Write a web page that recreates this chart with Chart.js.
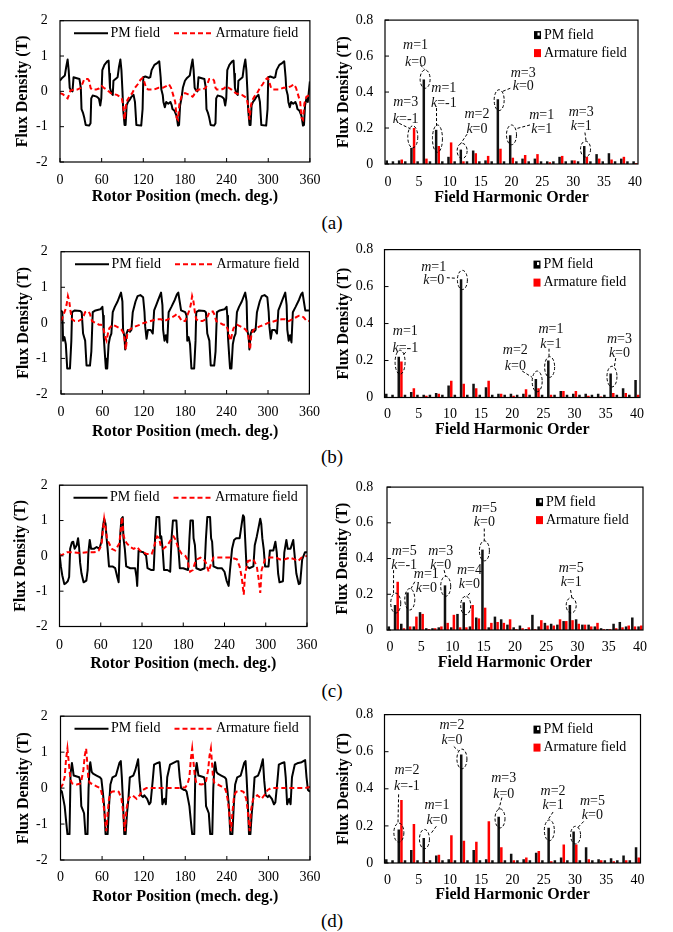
<!DOCTYPE html>
<html><head><meta charset="utf-8">
<script src="https://cdn.jsdelivr.net/npm/chart.js@4.4.1/dist/chart.umd.min.js"></script>
<style>
html,body{margin:0;padding:0;background:#fff}
body{position:relative;width:673px;height:932px;overflow:hidden}
canvas{position:absolute}
.lab{position:absolute;font-family:"Liberation Serif","Times New Roman",serif;font-size:19px;color:#000;transform:translate(-50%,-50%);white-space:nowrap}
</style></head><body>
<div class="lab" style="left:332px;top:223px">(a)</div>
<div class="lab" style="left:332px;top:457px">(b)</div>
<div class="lab" style="left:332px;top:691px">(c)</div>
<div class="lab" style="left:332px;top:921px">(d)</div>
<script>
// ---------------- DATA ----------------
const rotorTicks = [0, 60, 120, 180, 240, 300, 360];
const fluxTicksWave = [-2, -1, 0, 1, 2];
const fluxTicksHarm = [0, 0.2, 0.4, 0.6, 0.8];
const harmonicOrders = [0,1,2,3,4,5,6,7,8,9,10,11,12,13,14,15,16,17,18,19,20,21,22,23,24,25,26,27,28,29,30,31,32,33,34,35,36,37,38,39,40];
const harmonicTickLabels = [0, 5, 10, 15, 20, 25, 30, 35, 40];
const seriesNames = ['PM field', 'Armature field'];

// waveform (a): [rotor position deg, flux density T]
const pmA = [[0,0.3],[3,0.38],[7,0.45],[9,0.7],[11,0.9],[12.5,0.6],[14,0.1],[16,0.02],[18,0],[19.5,0.4],[23,0.38],[28,0.35],[30,0.1],[31,-0.5],[33,-0.6],[35,-0.75],[37,-0.95],[42,-0.97],[44,-0.9],[45,-0.2],[47,-0.12],[53,-0.15],[56,-0.2],[58,-0.4],[59.5,-0.2],[61,0.6],[64,0.75],[68,0.85],[70,0.87],[71,0.5],[72,0.1],[74,-0.05],[76,-0.1],[77,0.3],[80,0.35],[83,0.4],[85,0.7],[87,0.9],[88.5,0.6],[90,0],[91,-0.5],[93,-0.95],[94.5,-0.95],[96,-0.4],[98,-0.3],[100,-0.25],[103,-0.15],[106,-0.1],[108,-0.3],[110,-0.95],[117,-0.97],[119,-0.5],[120,0.4],[123,0.42],[128,0.38],[130,0.4],[132,0.6],[136,0.75],[140,0.8],[143,0.85],[145,0.4],[146,0.05],[148,-0.1],[149,-0.3],[151,-0.45],[153,-0.3],[156,-0.35],[159,-0.3],[161,-0.4],[162,-0.5],[165,-0.55],[168,-0.7],[170,-0.97],[171.5,-0.95],[173,-0.4],[175,-0.2],[177,0.1],
[180,0.3],[183,0.38],[187,0.45],[189,0.7],[191,0.9],[192.5,0.6],[194,0.1],[196,0.02],[198,0],[199.5,0.4],[203,0.38],[208,0.35],[210,0.1],[211,-0.5],[213,-0.6],[215,-0.75],[217,-0.95],[222,-0.97],[224,-0.9],[225,-0.2],[227,-0.12],[233,-0.15],[236,-0.2],[238,-0.4],[239.5,-0.2],[241,0.6],[244,0.75],[248,0.85],[250,0.87],[251,0.5],[252,0.1],[254,-0.05],[256,-0.1],[257,0.3],[260,0.35],[263,0.4],[265,0.7],[267,0.9],[268.5,0.6],[270,0],[271,-0.5],[273,-0.95],[274.5,-0.95],[276,-0.4],[278,-0.3],[280,-0.25],[283,-0.15],[286,-0.1],[288,-0.3],[290,-0.95],[297,-0.97],[299,-0.5],[300,0.4],[303,0.42],[308,0.38],[310,0.4],[312,0.6],[316,0.75],[320,0.8],[323,0.85],[325,0.4],[326,0.05],[328,-0.1],[329,-0.3],[331,-0.45],[333,-0.3],[336,-0.35],[339,-0.3],[341,-0.4],[342,-0.5],[345,-0.55],[348,-0.7],[350,-0.97],[351.5,-0.95],[353,-0.4],[355,-0.2],[357,-0.3],[360,0.28]];
const armA = [[0,-0.05],[4,-0.08],[8,-0.15],[11,-0.2],[13,-0.1],[15,0.02],[20,0.05],[25,0.05],[30,0.1],[33,0.25],[35,0.35],[40,0.35],[42,0.3],[44,0.1],[46,0.05],[52,0.05],[56,0.08],[60,0.15],[63,0.1],[67,0.05],[70,0],[73,-0.05],[78,-0.08],[82,-0.1],[86,-0.15],[89,-0.2],[91,-0.4],[93,-0.8],[95,-0.4],[97,-0.25],[100,-0.15],[104,-0.05],[108,0.1],[112,0.2],[116,0.33],[119,0.38],[121,0.3],[124,0.1],[127,0.05],[135,0.05],[142,0.1],[148,0.1],[153,0.15],[157,0.2],[160,0.1],[163,-0.1],[166,-0.3],[168,-0.75],[170,-0.8],[172,-0.35],[175,-0.15],[178,-0.08],
[180,-0.05],[184,-0.08],[188,-0.12],[191,-0.15],[193,-0.1],[195,0],[200,0.05],[205,0.05],[210,0.1],[213,0.25],[215,0.35],[220,0.35],[222,0.3],[224,0.1],[226,0.05],[232,0.05],[236,0.08],[240,0.15],[243,0.1],[247,0.05],[250,0],[253,-0.05],[258,-0.08],[262,-0.1],[266,-0.15],[269,-0.2],[271,-0.4],[273,-0.8],[275,-0.4],[277,-0.25],[280,-0.15],[284,-0.05],[288,0.1],[292,0.2],[296,0.33],[299,0.38],[301,0.3],[304,0.1],[307,0.05],[315,0.05],[322,0.1],[328,0.1],[333,0.15],[337,0.2],[340,0.1],[343,-0.1],[346,-0.3],[348,-0.75],[350,-0.8],[352,-0.35],[355,-0.15],[360,-0.1]];

// waveform (b)
const pmB = [[0,0.35],[2,0.3],[3,-0.5],[5,-0.4],[7,-0.6],[9,-1.28],[13,-1.28],[15,-0.5],[16,0.3],[20,0.35],[28,0.33],[30,0.3],[32,-0.3],[35,-0.5],[37,-1.2],[42,-1.2],[44,-0.8],[46,0.3],[50,0.35],[57,0.38],[60,0.45],[61,0.2],[62,-0.4],[64,-1.0],[65,-1.28],[67,-1.28],[69,-0.6],[71,-0.4],[73,-0.3],[75,0.3],[78,0.45],[82,0.6],[85,0.75],[87,0.85],[89,0.6],[90,-0.2],[92,-0.4],[93,-0.75],[95,-0.3],[97,-0.2],[100,-0.25],[102,-0.2],[104,0.3],[108,0.6],[111,0.75],[115,0.78],[119,0.72],[121,0.3],[122,-0.1],[124,-0.45],[126,-0.2],[130,-0.2],[133,-0.3],[135,0.35],[138,0.5],[141,0.65],[145,0.85],[147,0.5],[148,-0.2],[150,-0.5],[152,-0.35],[154,-0.55],[156,0.3],[160,0.45],[165,0.65],[168,0.8],[170,0.85],[172,0.6],[174,0.35],
[180,0.3],[182,0.2],[183,-0.5],[185,-0.4],[187,-0.6],[189,-1.28],[193,-1.28],[195,-0.5],[196,0.3],[200,0.35],[208,0.33],[210,0.3],[212,-0.3],[215,-0.5],[217,-1.2],[222,-1.2],[224,-0.8],[226,0.3],[230,0.35],[237,0.38],[240,0.45],[241,0.2],[242,-0.4],[244,-1.0],[245,-1.28],[247,-1.28],[249,-0.6],[251,-0.4],[253,-0.3],[255,0.3],[258,0.45],[262,0.6],[265,0.75],[267,0.85],[269,0.6],[270,-0.2],[272,-0.4],[273,-0.75],[275,-0.3],[277,-0.2],[280,-0.25],[282,-0.2],[284,0.3],[288,0.6],[291,0.75],[295,0.78],[299,0.72],[301,0.3],[302,-0.1],[304,-0.45],[306,-0.2],[310,-0.2],[313,-0.3],[315,0.35],[318,0.5],[321,0.65],[325,0.85],[327,0.5],[328,-0.2],[330,-0.5],[332,-0.35],[334,-0.55],[336,0.3],[340,0.45],[345,0.65],[348,0.8],[350,0.85],[352,0.6],[354,0.35],[360,0.35]];
const armB = [[0,0.05],[3,0.2],[6,0.35],[8,0.5],[10,0.75],[12,0.6],[14,0.3],[16,0.1],[20,0.05],[25,0.05],[30,0.1],[33,0.2],[35,0.3],[40,0.32],[42,0.25],[45,0.05],[50,0],[55,-0.05],[58,-0.05],[60,-0.1],[62,-0.2],[64,-0.4],[66,-0.5],[68,-0.3],[70,-0.15],[75,-0.05],[80,-0.1],[85,-0.15],[88,-0.2],[91,-0.3],[93,-0.6],[94,-0.75],[96,-0.3],[99,-0.2],[103,-0.15],[108,-0.1],[115,-0.05],[120,0],[125,0.02],[130,0.05],[135,0.08],[140,0.1],[145,0.1],[150,0.05],[155,0.1],[160,0.15],[165,0.2],[168,0.25],[172,0.15],[175,0.05],
[180,0.05],[183,0.2],[186,0.35],[188,0.5],[190,0.75],[192,0.6],[194,0.3],[196,0.1],[200,0.05],[205,0.05],[210,0.1],[213,0.2],[215,0.3],[220,0.32],[222,0.25],[225,0.05],[230,0],[235,-0.05],[238,-0.05],[240,-0.1],[242,-0.2],[244,-0.4],[246,-0.5],[248,-0.3],[250,-0.15],[255,-0.05],[260,-0.1],[265,-0.15],[268,-0.2],[271,-0.3],[273,-0.6],[274,-0.75],[276,-0.3],[279,-0.2],[283,-0.15],[288,-0.1],[295,-0.05],[300,0],[305,0.02],[310,0.05],[315,0.08],[320,0.1],[325,0.1],[330,0.05],[335,0.1],[340,0.15],[345,0.2],[348,0.2],[352,0.15],[356,0.05],[360,0.05]];

// waveform (c)
const pmC = [[0,0.07],[2,-0.3],[4,-0.55],[7,-0.8],[9,-0.78],[12,-0.72],[14,-0.6],[15.5,0.2],[18,0.38],[20,0.4],[22,0.2],[25,0.3],[27,0.5],[28.5,0.25],[30,-0.2],[32,-0.5],[35,-0.75],[39,-0.7],[41,-0.4],[42,0.1],[44,0.45],[46,0.2],[50,0.2],[54,0.25],[58,0.2],[61,0.4],[63,0.8],[65,1.05],[67,0.9],[68.5,0.5],[70,0.2],[72,-0.3],[77,-0.3],[81,-0.35],[84,-0.6],[86,-0.75],[88,0.5],[90,1.05],[92,1.1],[93,0.5],[95,0.2],[97,-0.3],[103,-0.35],[110,-0.35],[112,-0.6],[113,-0.85],[115,0.15],[118,0.12],[122,0.1],[126,0],[128,-0.35],[133,-0.4],[137,-0.4],[139,0.5],[141,1.1],[145,1.1],[146.5,0.5],[148,0.55],[150,0.2],[152,-0.4],[157,-0.4],[161,-0.45],[163,0.5],[165,1.0],[170,1.0],[171.5,0.5],[173,0.2],[175,-0.35],[180,-0.35],[187,-0.4],[189,0.5],[190.5,1.0],[194,1.0],[195,0.5],[197,0.3],[199,-0.35],[205,-0.4],[211,-0.35],[213,0.5],[215,1.1],[219,1.1],[220.5,0.5],[222,0.4],[224,-0.3],[230,-0.35],[236,-0.35],[240,-0.45],[243,-0.7],[246,-0.85],[248,-0.4],[251,0.2],[254,0.45],[257,0.5],[262,0.5],[265,0.9],[267,1.15],[268.5,1.1],[270,0.5],[272,-0.3],[276,-0.35],[282,-0.3],[284,0.3],[287,0.55],[290,0.85],[292,1.05],[293.5,0.9],[295,0.5],[297,0.2],[299,-0.3],[304,-0.3],[306,0.15],[311,0.15],[314,0.4],[316,0.1],[318,-0.5],[320,-0.75],[325,-0.72],[327,0.1],[330,0.45],[332,0.2],[336,0.2],[340,0.45],[341.6,0.1],[344.5,-0.5],[348,-0.8],[350,-0.78],[353,-0.1],[357,0.1],[360,0.1]];
const armC = [[0,0],[6,0.05],[11,0.1],[20,0.1],[30,0.08],[40,0.1],[50,0.1],[55,0.12],[57,0.15],[61,0.3],[63,0.7],[65,1.05],[67,0.8],[69,0.5],[71,0.4],[76,0.2],[81,0.15],[84,0.25],[87,0.35],[89,0.7],[91,1.1],[93,0.6],[95,0.45],[98,0.35],[103,0.25],[108,0.2],[113,0.25],[117,0.15],[122,0.1],[127,0.05],[134,0.05],[137,0.2],[140,0.45],[142,0.55],[145,0.5],[147,0.3],[151,0.2],[157,0.3],[162,0.45],[166,0.55],[169,0.45],[173,0.2],[178,0.05],[183,0],[186,-0.1],[188,-0.3],[190,-0.45],[194,-0.4],[197,-0.2],[200,-0.1],[205,-0.05],[210,-0.1],[213,-0.2],[217,-0.45],[220,-0.25],[224,-0.05],[235,-0.05],[250,-0.05],[258,-0.1],[262,-0.3],[265,-0.6],[268,-1.1],[270,-0.5],[274,-0.15],[282,-0.1],[287,-0.3],[290,-0.7],[292,-1.05],[294,-0.4],[299,-0.1],[305,-0.05],[315,-0.05],[321,-0.1],[327,-0.1],[335,-0.05],[342,-0.1],[347,-0.15],[352,-0.05],[360,0]];

// waveform (d)
const pmD = [[0,-0.05],[2,-0.1],[4,-0.3],[6,-0.5],[8,-0.9],[10,-1.28],[13,-1.28],[14.5,0.4],[16.5,0.7],[18,0.5],[19,0.35],[27,0.3],[28.5,0.2],[30,-0.5],[32,-0.6],[34,-0.7],[36,-1.28],[39,-1.28],[40.5,0],[42,0.6],[43,0.72],[45,0.45],[47,0.4],[52,0.35],[57,0.3],[59,0.25],[61,-0.1],[63,-0.5],[65,-1.28],[68,-1.28],[70,-0.5],[72,0.1],[75,0.3],[80,0.35],[85,0.7],[87,0.75],[88.5,0.3],[90,-0.3],[92,-1.28],[94,-1.28],[96,-0.7],[98,-0.3],[100,0.3],[105,0.35],[108,0.5],[112,0.8],[114,0.2],[116,-0.2],[119,-0.25],[121,-0.2],[125,-0.3],[128,-0.45],[130,-0.4],[133,0.2],[135,0.65],[140,0.7],[143,0.72],[145,0.3],[147,-0.45],[150,-0.3],[152,-0.45],[154,0.3],[158,0.65],[163,0.7],[168,0.75],[170,0.75],[172,0.3],[174,0],[178,-0.05],
[180,-0.05],[182,-0.1],[184,-0.3],[186,-0.5],[188,-0.9],[190,-1.28],[193,-1.28],[194.5,0.4],[196.5,0.7],[198,0.5],[199,0.35],[207,0.3],[208.5,0.2],[210,-0.5],[212,-0.6],[214,-0.7],[216,-1.28],[219,-1.28],[220.5,0],[222,0.6],[223,0.72],[225,0.45],[227,0.4],[232,0.35],[237,0.3],[239,0.25],[241,-0.1],[243,-0.5],[245,-1.28],[248,-1.28],[250,-0.5],[252,0.1],[255,0.3],[260,0.35],[265,0.7],[267,0.75],[268.5,0.3],[270,-0.3],[272,-1.28],[274,-1.28],[276,-0.7],[278,-0.3],[280,0.3],[285,0.35],[288,0.5],[292,0.8],[294,0.2],[296,-0.2],[299,-0.25],[301,-0.2],[305,-0.3],[308,-0.45],[310,-0.4],[313,0.2],[315,0.65],[320,0.7],[323,0.72],[325,0.3],[327,-0.45],[330,-0.3],[332,-0.45],[334,0.3],[338,0.65],[343,0.7],[348,0.72],[353,0.78],[355,0.3],[357,-0.05],[360,-0.1]];
const armD = [[0,0],[3,0.1],[6,0.3],[8,0.8],[10,1.1],[12,0.7],[14,0.3],[16,0.15],[18,0.12],[23,0.1],[28,0.12],[30,0.2],[33,0.5],[35,0.9],[37,1.1],[39,0.6],[40,0.3],[42,0.15],[47,0.1],[52,0.05],[57,0],[59,-0.1],[61,-0.3],[63,-0.6],[66,-1.2],[68,-0.7],[70,-0.3],[72,-0.15],[74,-0.1],[81,-0.08],[84,-0.1],[88,-0.3],[90,-0.6],[93,-1.2],[95,-0.6],[98,-0.3],[100,-0.25],[104,-0.2],[110,-0.3],[114,-0.2],[119,-0.05],[124,0],[172,0],[178,0.02],
[180,0.02],[183,0.1],[186,0.3],[188,0.8],[190,1.1],[192,0.7],[194,0.3],[196,0.15],[198,0.12],[203,0.1],[208,0.12],[210,0.2],[213,0.5],[215,0.9],[217,1.1],[219,0.6],[220,0.3],[222,0.15],[227,0.1],[232,0.05],[237,0],[239,-0.1],[241,-0.3],[243,-0.6],[246,-1.2],[248,-0.7],[250,-0.3],[252,-0.15],[254,-0.1],[261,-0.08],[264,-0.1],[268,-0.3],[270,-0.6],[273,-1.2],[275,-0.6],[278,-0.3],[280,-0.25],[284,-0.2],[290,-0.3],[294,-0.2],[299,-0.05],[304,0],[352,0],[360,0.03]];

// harmonic spectra, one value per harmonic order 0..40
const harmPmA  = [0.02,0.015,0.02,0.015,0.09,0.015,0.47,0.015,0.19,0.015,0.04,0.015,0.08,0.015,0.075,0.015,0.02,0.015,0.36,0.015,0.16,0.015,0.03,0.015,0.03,0.015,0.015,0.015,0.04,0.015,0.02,0.015,0.1,0.015,0.055,0.015,0.06,0.015,0.03,0.015,0.015];
const harmArmA = [0,0,0.025,0,0.2,0,0.03,0,0.1,0,0.12,0,0.015,0,0.06,0,0.045,0,0.085,0,0.035,0,0.05,0,0.055,0,0.01,0,0.045,0,0.02,0,0.04,0,0.03,0,0.025,0,0.04,0,0.005];
const harmPmB  = [0.02,0.015,0.22,0.015,0.03,0.015,0.015,0.015,0.025,0.015,0.065,0.015,0.64,0.015,0.075,0.015,0.055,0.015,0.02,0.015,0.02,0.015,0.02,0.015,0.1,0.015,0.2,0.015,0.035,0.015,0.02,0.015,0.02,0.015,0.02,0.015,0.13,0.015,0.05,0.015,0.095];
const harmArmB = [0,0,0.195,0,0.05,0,0.01,0,0.02,0,0.09,0,0.075,0,0.05,0,0.09,0,0.02,0,0.01,0,0.045,0,0.05,0,0.015,0,0.035,0,0.035,0,0.01,0,0.005,0,0.025,0,0.025,0,0.015];
const harmPmC  = [0.02,0.14,0.035,0.21,0.02,0.1,0.01,0.01,0.015,0.25,0.015,0.09,0.155,0.02,0.07,0.45,0.015,0.075,0.06,0.03,0.015,0.025,0.005,0.085,0.02,0.04,0.035,0.03,0.05,0.14,0.06,0.03,0.03,0.02,0.01,0.005,0.035,0.045,0.02,0.07,0.02];
const harmArmC = [0,0.27,0.01,0.02,0.075,0.09,0.005,0.01,0.02,0.04,0.085,0.015,0.015,0.14,0.065,0.125,0.04,0.045,0.04,0.06,0.005,0.01,0.015,0.005,0.055,0.025,0.025,0.06,0.05,0.055,0.035,0.03,0.02,0.04,0.005,0.005,0.01,0.015,0.025,0.02,0.025];
const harmPmD  = [0.02,0.015,0.18,0.015,0.07,0.015,0.135,0.015,0.04,0.015,0.02,0.015,0.585,0.015,0.07,0.015,0.02,0.015,0.25,0.015,0.05,0.015,0.02,0.015,0.055,0.015,0.19,0.015,0.03,0.015,0.17,0.015,0.085,0.015,0.02,0.015,0.025,0.015,0.04,0.015,0.085];
const harmArmD = [0,0,0.34,0,0.21,0,0.005,0,0.045,0,0.15,0,0.12,0,0.115,0,0.225,0,0.085,0,0.015,0,0.03,0,0.065,0,0.01,0,0.1,0,0.1,0,0.02,0,0.015,0,0.01,0,0.015,0,0.03];

// harmonic labels (m, k) with the order they mark
const notesA = [
 {m:'3',k:'-1',ord:4,lo:0.09,hi:0.212,tx:2.85,my:0.345,ky:0.251,l:[1.8,0.226,3.65,0.195]},
 {m:'1',k:'0',ord:6,lo:0.421,hi:0.523,tx:4.46,my:0.659,ky:0.566,l:[5.25,0.55,5.95,0.525]},
 {m:'1',k:'-1',ord:8,lo:0.065,hi:0.217,tx:9.03,my:0.421,ky:0.336,l:[7.85,0.311,7.85,0.212]},
 {m:'2',k:'0',ord:12,lo:0.031,hi:0.115,tx:14.4,my:0.277,ky:0.192,l:[12.8,0.166,11.7,0.11]},
 {m:'3',k:'0',ord:18,lo:0.297,hi:0.413,tx:21.9,my:0.506,ky:0.43,l:[19.8,0.421,18.3,0.4]},
 {m:'1',k:'1',ord:20,lo:0.107,hi:0.217,tx:24.9,my:0.268,ky:0.192,l:[23,0.217,20.6,0.195]},
 {m:'3',k:'1',ord:32,lo:0.039,hi:0.127,tx:31.3,my:0.285,ky:0.209,l:[31.9,0.175,32.1,0.124]}
];
const notesB = [
 {m:'1',k:'-1',ord:2,lo:0.126,hi:0.256,tx:2.84,my:0.359,ky:0.264,l:[2.9,0.245,2.45,0.228]},
 {m:'1',k:'0',ord:12,lo:0.584,hi:0.688,tx:7.4,my:0.705,ky:0.636,l:[9.5,0.648,11.0,0.645]},
 {m:'2',k:'0',ord:24,lo:0.031,hi:0.143,tx:20.5,my:0.256,ky:0.169,l:[21.6,0.143,23.2,0.109]},
 {m:'1',k:'1',ord:26,lo:0.109,hi:0.221,tx:26.2,my:0.368,ky:0.29,l:[25.9,0.264,25.9,0.221]},
 {m:'3',k:'0',ord:36,lo:0.057,hi:0.169,tx:37.2,my:0.316,ky:0.238,l:[36.6,0.213,36.4,0.169]}
];
const notesC = [
 {m:'5',k:'-1',ord:0.9,lo:0.095,hi:0.206,tx:2.25,my:0.439,ky:0.361,l:[0.55,0.335,0.55,0.2]},
 {m:'1',k:'0',ord:3.15,lo:0.112,hi:0.232,tx:5.8,my:0.31,ky:0.236,l:[3.95,0.27,3.3,0.229]},
 {m:'3',k:'0',ord:8.9,lo:0.189,hi:0.301,tx:8.1,my:0.439,ky:0.361,l:[8.65,0.335,8.9,0.298]},
 {m:'4',k:'0',ord:12.1,lo:0.086,hi:0.189,tx:12.7,my:0.335,ky:0.258,l:[12.8,0.206,12.1,0.184]},
 {m:'5',k:'0',ord:15.1,lo:0.387,hi:0.499,tx:15.1,my:0.68,ky:0.602,l:[15.08,0.568,15.08,0.499]},
 {m:'5',k:'1',ord:29,lo:0.095,hi:0.181,tx:29,my:0.344,ky:0.267,l:[28.9,0.224,29.1,0.181]}
];
const notesD = [
 {m:'2',k:'-1',ord:1.8,lo:0.112,hi:0.215,tx:3.1,my:0.499,ky:0.413,l:[1.76,0.37,1.66,0.212]},
 {m:'1',k:'0',ord:5.9,lo:0.077,hi:0.181,tx:7.9,my:0.31,ky:0.232,l:[7.8,0.198,6.85,0.155]},
 {m:'2',k:'0',ord:11.9,lo:0.508,hi:0.614,tx:10.3,my:0.74,ky:0.662,l:[10.6,0.628,11.4,0.602]},
 {m:'3',k:'0',ord:18,lo:0.189,hi:0.292,tx:18.6,my:0.456,ky:0.37,l:[18.3,0.353,17.8,0.287]},
 {m:'2',k:'1',ord:25.9,lo:0.12,hi:0.232,tx:26.5,my:0.387,ky:0.31,l:[26.5,0.275,25.6,0.229]},
 {m:'5',k:'0',ord:30.1,lo:0.103,hi:0.198,tx:32.8,my:0.335,ky:0.258,l:[31.4,0.224,30.4,0.189]}
];

// ---------------- LAYOUT (page pixels) ----------------
const FONT = '"Liberation Serif", "Times New Roman", serif';
Chart.defaults.font.family = FONT;
Chart.defaults.color = '#000';
const G = {
  wa:{cx:0,cy:0,cw:330,ch:215,l:60,t:7,r:310,b:162,yt:23,tk:180,tt:197},
  ha:{cx:330,cy:0,cw:343,ch:215,l:385,t:7.5,r:638,b:164,yt:344,tk:182.5,tt:198},
  wb:{cx:0,cy:230,cw:330,ch:215,l:61,t:243,r:310,b:394,yt:24,tk:412.5,tt:431.5},
  hb:{cx:330,cy:230,cw:343,ch:215,l:384.5,t:243,r:640,b:397.5,yt:344,tk:414,tt:430},
  wc:{cx:0,cy:465,cw:330,ch:215,l:59.5,t:475,r:307,b:626.5,yt:21,tk:645,tt:664},
  hc:{cx:330,cy:465,cw:343,ch:215,l:387,t:475,r:643,b:630,yt:343,tk:647.5,tt:663},
  wd:{cx:0,cy:695,cw:330,ch:215,l:60.5,t:708,r:310,b:860,yt:24,tk:877.5,tt:896.5},
  hd:{cx:330,cy:695,cw:343,ch:215,l:384.5,t:708,r:640.5,b:863,yt:344,tk:880,tt:895}
};

function mkCanvas(g){
  const c = document.createElement('canvas');
  c.width = g.cw; c.height = g.ch;
  c.style.left = g.cx+'px'; c.style.top = g.cy+'px';
  c.style.width = g.cw+'px'; c.style.height = g.ch+'px';
  document.body.appendChild(c);
  return c;
}

const framePlugin = {
  id:'frame',
  afterDraw(chart){
    const {ctx, chartArea:a, scales} = chart;
    ctx.save();
    ctx.setLineDash([]);
    ctx.strokeStyle = '#000'; ctx.lineWidth = 1.2;
    ctx.strokeRect(a.left, a.top, a.right-a.left, a.bottom-a.top);
    ctx.lineWidth = 1;
    scales.y.ticks.forEach(t=>{
      const y = scales.y.getPixelForValue(t.value);
      ctx.beginPath(); ctx.moveTo(a.left, y); ctx.lineTo(a.left+4, y); ctx.stroke();
    });
    if (chart.config.type === 'line') {
      scales.x.ticks.forEach(t=>{
        const x = scales.x.getPixelForValue(t.value);
        ctx.beginPath(); ctx.moveTo(x, a.bottom); ctx.lineTo(x, a.bottom-4); ctx.stroke();
      });
    }
    ctx.restore();
  }
};

const waveLegend = {
  id:'waveLegend',
  afterDraw(chart){
    const {ctx, chartArea:a} = chart;
    const y = a.top + 12.5;
    const ds = chart.data.datasets;
    ctx.save();
    ctx.lineWidth = 2; ctx.strokeStyle = '#000'; ctx.setLineDash([]);
    ctx.beginPath(); ctx.moveTo(a.left+14, y); ctx.lineTo(a.left+48, y); ctx.stroke();
    ctx.strokeStyle = '#ff0000'; ctx.setLineDash([5,3]);
    ctx.beginPath(); ctx.moveTo(a.left+114, y); ctx.lineTo(a.left+153, y); ctx.stroke();
    ctx.setLineDash([]);
    ctx.fillStyle = '#000'; ctx.font = '14px '+FONT; ctx.textBaseline = 'middle'; ctx.textAlign = 'left';
    ctx.fillText(ds[1].label, a.left+50.5, y);
    ctx.fillText(ds[0].label, a.left+155.5, y);
    ctx.restore();
  }
};

const barLegend = {
  id:'barLegend',
  afterDraw(chart){
    const {ctx, chartArea:a} = chart;
    const x = a.left+149, y1 = a.top+15, y2 = a.top+33;
    ctx.save();
    ctx.fillStyle = '#000'; ctx.fillRect(x, y1-4, 7, 8);
    ctx.fillStyle = '#fff'; ctx.fillRect(x+3.5, y1-2.5, 2.2, 3);
    ctx.fillStyle = '#ff0000'; ctx.fillRect(x, y2-4, 7, 8);
    ctx.fillStyle = '#000'; ctx.font = '14px '+FONT; ctx.textBaseline = 'middle'; ctx.textAlign = 'left';
    ctx.fillText(chart.data.datasets[0].label, x+10, y1);
    ctx.fillText(chart.data.datasets[1].label, x+10, y2);
    ctx.restore();
  }
};

function drawMK(ctx, cx, cy, sym, val){
  const it = 'italic 14px '+FONT, rg = '14px '+FONT;
  ctx.font = it; const w1 = ctx.measureText(sym).width;
  ctx.font = rg; const w2 = ctx.measureText('='+val).width;
  const x = cx - (w1+w2)/2;
  ctx.textBaseline = 'middle'; ctx.textAlign = 'left'; ctx.fillStyle = '#111';
  ctx.font = it; ctx.fillText(sym, x, cy);
  ctx.font = rg; ctx.fillText('='+val, x+w1, cy);
}

function notesPlugin(items){
  return {
    id:'notes',
    afterDatasetsDraw(chart){
      const {ctx} = chart; const sx = chart.scales.x, sy = chart.scales.y;
      const p0 = sx.getPixelForValue(0), step = sx.getPixelForValue(1) - p0;
      const X = o => p0 + o*step, Y = v => sy.getPixelForValue(v);
      ctx.save();
      items.forEach(it=>{
        ctx.strokeStyle = '#000'; ctx.lineWidth = 1; ctx.setLineDash([3,2]);
        const y1 = Y(it.hi), y2 = Y(it.lo);
        ctx.beginPath(); ctx.ellipse(X(it.ord), (y1+y2)/2, 5, (y2-y1)/2, 0, 0, Math.PI*2); ctx.stroke();
        ctx.beginPath(); ctx.moveTo(X(it.l[0]), Y(it.l[1])); ctx.lineTo(X(it.l[2]), Y(it.l[3])); ctx.stroke();
        ctx.setLineDash([]);
        drawMK(ctx, X(it.tx), Y(it.my), 'm', it.m);
        drawMK(ctx, X(it.tx), Y(it.ky), 'k', it.k);
      });
      ctx.restore();
    }
  };
}

function axes(g, xTitle, extraX, yMin, yMax, yTicks){
  return {
    x: Object.assign({
      afterFit: s => { s.height = g.cy + g.ch - g.b; },
      grid:{display:false, drawTicks:false},
      border:{display:false},
      ticks:{font:{size:14}, color:'#000', padding:g.tk - g.b - 8.4, maxRotation:0, minRotation:0, autoSkip:false},
      title:{display:true, text:xTitle, color:'#000', font:{size:16, weight:'bold'}, padding:{top:0, bottom:g.cy + g.ch - g.tt - 9.6}}
    }, extraX),
    y: {
      min:yMin, max:yMax,
      afterBuildTicks: s => { s.ticks = yTicks.map(v => ({value:v})); },
      afterFit: s => { s.width = g.l - g.cx; },
      grid:{display:false, drawTicks:false},
      border:{display:false},
      ticks:{font:{size:14}, color:'#000', padding:g.l - g.cx - (g.cx===0 ? 47.7 : 43.3)},
      title:{display:true, text:'Flux Density (T)', color:'#000', font:{size:16, weight:'bold'}, padding:{top:g.yt - g.cx - 9.6, bottom:0}}
    }
  };
}

function makeWave(g, pm, arm){
  const g2 = g;
  new Chart(mkCanvas(g), {
    type:'line',
    data:{datasets:[
      {label:seriesNames[1], data:arm.map(p=>({x:p[0], y:p[1]})), borderColor:'#ff0000', borderWidth:2, borderDash:[5,3], pointRadius:0, tension:0, order:0},
      {label:seriesNames[0], data:pm.map(p=>({x:p[0], y:p[1]})), borderColor:'#000', borderWidth:2, borderJoinStyle:'round', pointRadius:0, tension:0, order:1}
    ]},
    options:{
      responsive:false, animation:false, devicePixelRatio:1, events:[],
      layout:{padding:{top:g.t - g.cy, right:g.cx + g.cw - g.r, left:0, bottom:0}},
      plugins:{legend:{display:false}, tooltip:{enabled:false}},
      scales: axes(g2, 'Rotor Position (mech. deg.)', {
        type:'linear', min:0, max:360,
        afterBuildTicks: s => { s.ticks = rotorTicks.map(v => ({value:v})); }
      }, -2, 2, fluxTicksWave)
    },
    plugins:[framePlugin, waveLegend]
  });
}

function makeHarm(g, pm, arm, notes){
  new Chart(mkCanvas(g), {
    type:'bar',
    data:{labels:harmonicOrders.map(String), datasets:[
      {label:seriesNames[0], data:pm, backgroundColor:'#111', borderWidth:0, categoryPercentage:0.85, barPercentage:0.95},
      {label:seriesNames[1], data:arm, backgroundColor:'#ff0000', borderWidth:0, categoryPercentage:0.85, barPercentage:0.95}
    ]},
    options:{
      responsive:false, animation:false, devicePixelRatio:1, events:[],
      layout:{padding:{top:g.t - g.cy, right:g.cx + g.cw - g.r, left:0, bottom:0}},
      plugins:{legend:{display:false}, tooltip:{enabled:false}},
      scales: (function(){
        const sc = axes(g, 'Field Harmonic Order', {type:'category', offset:true}, 0, 0.8, fluxTicksHarm);
        sc.x.ticks.callback = function(v){ const lab = this.getLabelForValue(v); return harmonicTickLabels.includes(Number(lab)) ? lab : null; };
        return sc;
      })()
    },
    plugins:[framePlugin, barLegend, notesPlugin(notes)]
  });
}

makeWave(G.wa, pmA, armA);
makeHarm(G.ha, harmPmA, harmArmA, notesA);
makeWave(G.wb, pmB, armB);
makeHarm(G.hb, harmPmB, harmArmB, notesB);
makeWave(G.wc, pmC, armC);
makeHarm(G.hc, harmPmC, harmArmC, notesC);
makeWave(G.wd, pmD, armD);
makeHarm(G.hd, harmPmD, harmArmD, notesD);
</script>
</body></html>
